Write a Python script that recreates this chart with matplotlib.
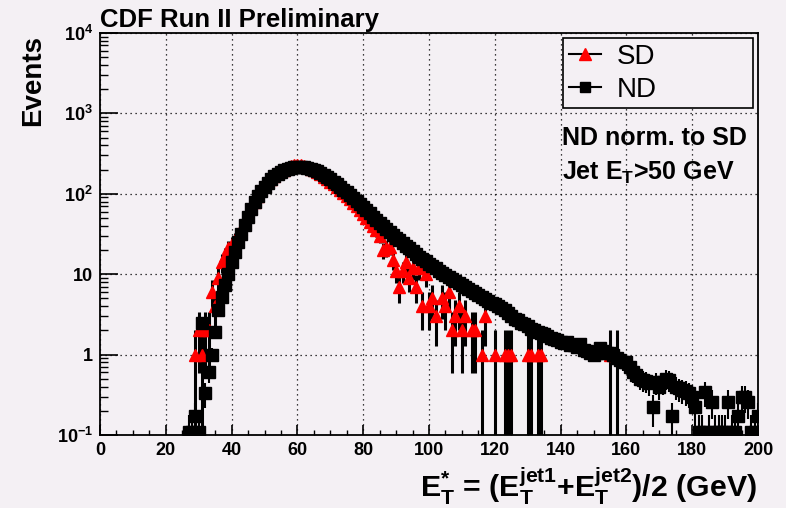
import numpy as np
import matplotlib
matplotlib.use("Agg")
import matplotlib.pyplot as plt
from matplotlib.lines import Line2D
from matplotlib.ticker import MultipleLocator, FixedLocator, FixedFormatter, LogLocator, NullFormatter

plt.rcParams['font.family'] = ['Liberation Sans', 'DejaVu Sans']
plt.rcParams['mathtext.fontset'] = 'custom'
plt.rcParams['mathtext.rm'] = 'Liberation Sans:bold'
plt.rcParams['mathtext.it'] = 'Liberation Sans:bold'
plt.rcParams['mathtext.bf'] = 'Liberation Sans:bold'

# ---------------- data ----------------
nd_x = list(range(27, 201))
nd_y = [
    0.11, 0.11, 0.17, 0.11, 2.5, 0.33, 0.6, 1.0, 1.9, 3.6, 5.2, 7.3, 10,          # 27-39
    14, 19, 25, 32, 41, 52, 64, 78, 93, 108,                                     # 40-49
    123, 138, 152, 165, 177, 188, 197, 205, 211, 215,                            # 50-59
    217, 217, 215, 211, 205, 198, 190, 181, 171, 161,                            # 60-69
    151, 141, 131, 121, 112, 104, 96, 88, 81, 74,                                # 70-79
    68, 62, 57, 52, 47.5, 43.5, 40, 36.5, 33.5, 31,                              # 80-89
    28.5, 26.5, 24.5, 22.5, 21, 19.5, 18, 16.5, 15.5, 14.5,                      # 90-99
    13.5, 12.6, 11.8, 11.1, 10.4, 9.8, 9.3, 8.8, 8.3, 7.8,                       # 100-109
    7.4, 7.0, 6.6, 6.2, 5.8, 5.5, 5.2, 4.9, 4.6, 4.4,                            # 110-119
    4.2, 4.0, 3.8, 3.6, 3.3, 3.0, 2.8, 2.7, 2.5, 2.4,                            # 120-129
    2.3, 2.1, 2.0, 1.9, 1.85, 1.8, 1.7, 1.6, 1.55, 1.5,                          # 130-139
    1.45, 1.4, 1.45, 1.3, 1.3, 1.25, 1.35, 1.15, 1.1, 1.05,                      # 140-149
    1.0, 1.05, 1.2, 1.1, 1.05, 1.05, 1.0, 0.9, 0.85, 0.8,                        # 150-159
    0.8, 0.7, 0.6, 0.55, 0.5, 0.48, 0.47, 0.44, 0.22, 0.45,                      # 160-169
    0.4, 0.45, 0.5, 0.48, 0.17, 0.4, 0.38, 0.36, 0.35, 0.33,                     # 170-179
    0.3, 0.22, 0.11, 0.11, 0.34, 0.11, 0.26, 0.11, 0.11, 0.11,                   # 180-189
    0.11, 0.26, 0.11, 0.11, 0.17, 0.3, 0.3, 0.26, 0.11, 0.11,                    # 190-199
    0.17,                                                                        # 200
]
nd_scale = 0.04  # normalisation factor of ND to SD

sd_x = list(range(29, 158))
sd_y = [
    1, 2, 1, 2, 2, 6, 4, 9, 14, 17, 21,                                          # 29-39
    24, 27, 31, 37, 45, 55, 67, 80, 95, 110,                                     # 40-49
    125, 140, 154, 167, 179, 190, 200, 210, 219, 226,                            # 50-59
    230, 227, 221, 214, 205, 196, 186, 175, 164, 153,                            # 60-69
    142, 132, 121, 111, 102, 93, 85, 77, 70, 63,                                 # 70-79
    56, 50, 45, 40, 35, 30, 20, 21, 22, 15,                                      # 80-89
    11, 7, 11, 14, 9, 12, 7, 12, 4, 10,                                          # 90-99
    4, 5, 3, 0, 5, 4, 6, 2, 3, 4,                                                # 100-109
    2, 3, 0, 2, 2, 0, 1, 3, 0, 0,                                                # 110-119
    1, 0, 0, 1, 1, 1, 0, 0, 0, 0,                                                # 120-129
    1, 1, 0, 1, 1, 0, 0, 0, 0, 0,                                                # 130-139
    0, 0, 0, 0, 0, 0, 0, 0, 0, 0,                                                # 140-149
    0, 0, 0, 0, 0, 1, 0, 1,                                                      # 150-157
]
assert len(nd_x) == len(nd_y)
assert len(sd_x) == len(sd_y)

x_ticks = [0, 20, 40, 60, 80, 100, 120, 140, 160, 180, 200]
y_ticks = [0.1, 1, 10, 100, 1000, 10000]
y_ticklabels = [r'$10^{-1}$', '1', '10', r'$10^{2}$', r'$10^{3}$', r'$10^{4}$']

# ---------------- figure ----------------
bg = '#f4f0f4'
fig = plt.figure(figsize=(7.86, 5.08), dpi=100, facecolor=bg)
ax = fig.add_axes([100/786, 1-435/508, (758-100)/786, (435-33)/508], facecolor=bg)

nd_x_a = np.array(nd_x, float)
nd_y_a = np.array(nd_y, float)
nd_err = np.sqrt(nd_y_a * nd_scale)

sd_x_a = np.array(sd_x, float)
sd_y_a = np.array(sd_y, float)
mask = sd_y_a > 0
sd_err = np.sqrt(sd_y_a[mask])

ax.errorbar(sd_x_a[mask], sd_y_a[mask], yerr=sd_err, fmt='^', color='black',
            mfc='red', mec='red', ms=9, elinewidth=2.2, capsize=0, zorder=3)
ax.errorbar(nd_x_a, nd_y_a, yerr=nd_err, fmt='s', color='black', mfc='black', mec='black',
            ms=8.3, elinewidth=1.5, capsize=0, zorder=4)

ax.set_yscale('log', nonpositive='clip')
ax.set_xlim(0, 200)
ax.set_ylim(0.1, 10000)

ax.xaxis.set_major_locator(FixedLocator(x_ticks))
ax.xaxis.set_minor_locator(MultipleLocator(5))
ax.yaxis.set_major_locator(FixedLocator(y_ticks))
ax.yaxis.set_major_formatter(FixedFormatter(y_ticklabels))
ax.yaxis.set_minor_locator(LogLocator(base=10, subs=np.arange(2, 10)))
ax.yaxis.set_minor_formatter(NullFormatter())

ax.tick_params(axis='both', which='both', direction='in', top=False, right=False, colors='black')
ax.tick_params(axis='x', which='major', length=7, width=1.2, labelsize=13, pad=5)
ax.tick_params(axis='x', which='minor', length=3.5, width=1.0)
ax.tick_params(axis='y', which='major', length=13, width=1.2, labelsize=13, pad=5)
ax.tick_params(axis='y', which='minor', length=6, width=1.0)
for lab in ax.get_xticklabels() + ax.get_yticklabels():
    lab.set_fontweight('bold')

ax.grid(True, which='major', color='black', linestyle=(0, (1, 3)), linewidth=0.9)
for s in ax.spines.values():
    s.set_linewidth(1.3)
    s.set_color('black')

# texts
fig.text(100/786, 1-27/508, 'CDF Run II Preliminary', ha='left', va='baseline',
         fontsize=18.5, fontweight='bold')
fig.text(33/786, 1-81/508, 'Events', rotation=90, ha='center', va='center',
         fontsize=20, fontweight='bold')
fig.text(757/786, 1-497/508,
         r'E$_{T}^{*}$ = (E$_{T}^{jet1}$+E$_{T}^{jet2}$)/2 (GeV)',
         ha='right', va='baseline', fontsize=21.8, fontweight='bold')
fig.text(562/786, 1-145/508, 'ND norm. to SD', ha='left', va='baseline',
         fontsize=18, fontweight='bold')
fig.text(562/786, 1-180/508, r'Jet E$_{T}$>50 GeV', ha='left', va='baseline',
         fontsize=18, fontweight='bold')

handles = [
    Line2D([], [], color='black', lw=1.5, marker='^', mfc='red', mec='red', ms=8),
    Line2D([], [], color='black', lw=1.5, marker='s', mfc='black', mec='black', ms=7),
]
leg = fig.legend(handles, ['SD', 'ND'], loc='upper left',
                 bbox_to_anchor=(563/786, 1-112/508, 190/786, 74/508),
                 bbox_transform=fig.transFigure, mode='expand', borderaxespad=0,
                 fontsize=20, frameon=True, fancybox=False, framealpha=1,
                 facecolor=bg, edgecolor='black', borderpad=0.2, labelspacing=0.25,
                 handlelength=1.15, handletextpad=0.6)
leg.get_frame().set_linewidth(1.2)

fig.savefig('out.png', dpi=100, facecolor=bg)
